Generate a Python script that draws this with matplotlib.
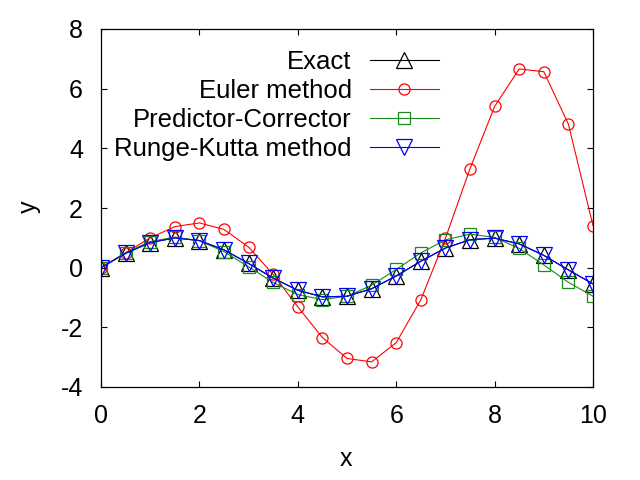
import matplotlib
matplotlib.use("Agg")
import matplotlib.pyplot as plt

plt.rcParams['font.family'] = ['Liberation Sans', 'DejaVu Sans']
plt.rcParams['axes.unicode_minus'] = False

x = [0.0, 0.5, 1.0, 1.5, 2.0, 2.5, 3.0, 3.5, 4.0, 4.5, 5.0,
     5.5, 6.0, 6.5, 7.0, 7.5, 8.0, 8.5, 9.0, 9.5, 10.0]
exact = [0.000, 0.479, 0.841, 0.997, 0.909, 0.598, 0.141, -0.351, -0.757, -0.978, -0.959,
         -0.706, -0.279, 0.215, 0.657, 0.938, 0.989, 0.798, 0.412, -0.075, -0.544]
euler = [0.000, 0.500, 1.000, 1.375, 1.500, 1.281, 0.688, -0.227, -1.313, -2.342, -3.043,
         -3.159, -2.514, -1.079, 0.984, 3.317, 5.404, 6.661, 6.568, 4.809, 1.409]
pc = [0.000, 0.500, 0.875, 1.023, 0.903, 0.539, 0.028, -0.497, -0.903, -1.071, -0.958,
      -0.590, -0.059, 0.494, 0.931, 1.123, 1.016, 0.644, 0.093, -0.492, -0.957]
rk = [0.000, 0.479, 0.841, 0.997, 0.909, 0.598, 0.141, -0.351, -0.757, -0.978, -0.959,
      -0.706, -0.279, 0.215, 0.657, 0.938, 0.989, 0.798, 0.412, -0.075, -0.544]

labels = ["Exact", "Euler method", "Predictor-Corrector", "Runge-Kutta method"]

fig = plt.figure(figsize=(6.4, 4.8), dpi=100)
ax = fig.add_axes([101/640, 1-387/480, (593-101)/640, (387-29)/480])

lw = 0.8
ax.plot(x, exact, color='black', lw=lw, marker='^', ms=11, mfc='none', mec='black', mew=0.9, label=labels[0])
ax.plot(x, euler, color='red', lw=lw, marker='o', ms=8, mfc='none', mec='red', mew=0.9, label=labels[1])
ax.plot(x, pc, color='#1a8a1a', lw=lw, marker='s', ms=8.5, mfc='none', mec='#1a8a1a', mew=0.9, label=labels[2])
ax.plot(x, rk, color='blue', lw=lw, marker='v', ms=11, mfc='none', mec='blue', mew=0.9, label=labels[3])

ax.set_xlim(0, 10)
ax.set_ylim(-4, 8)
ax.set_xticks([0, 2, 4, 6, 8, 10])
ax.set_yticks([-4, -2, 0, 2, 4, 6, 8])
ax.tick_params(direction='in', length=4, width=0.8, top=True, right=True, labelsize=18)
ax.tick_params(axis='y', pad=13)
ax.tick_params(axis='x', pad=12)
for s in ax.spines.values():
    s.set_linewidth(0.9)

ax.set_xlabel('x', fontsize=18)
ax.set_ylabel('y', fontsize=18)
ax.xaxis.set_label_coords((346-101)/492, -(447-387)/358)
ax.yaxis.set_label_coords((41-101)/492, (387-207)/358)

leg = ax.legend(loc='upper right', bbox_to_anchor=((439-101)/492, (387-50)/358),
                frameon=False, markerfirst=False, fontsize=18.5, handlelength=2.7,
                handletextpad=0.7, labelspacing=0.2, borderpad=0, borderaxespad=0)

fig.savefig('out.png', dpi=100)
